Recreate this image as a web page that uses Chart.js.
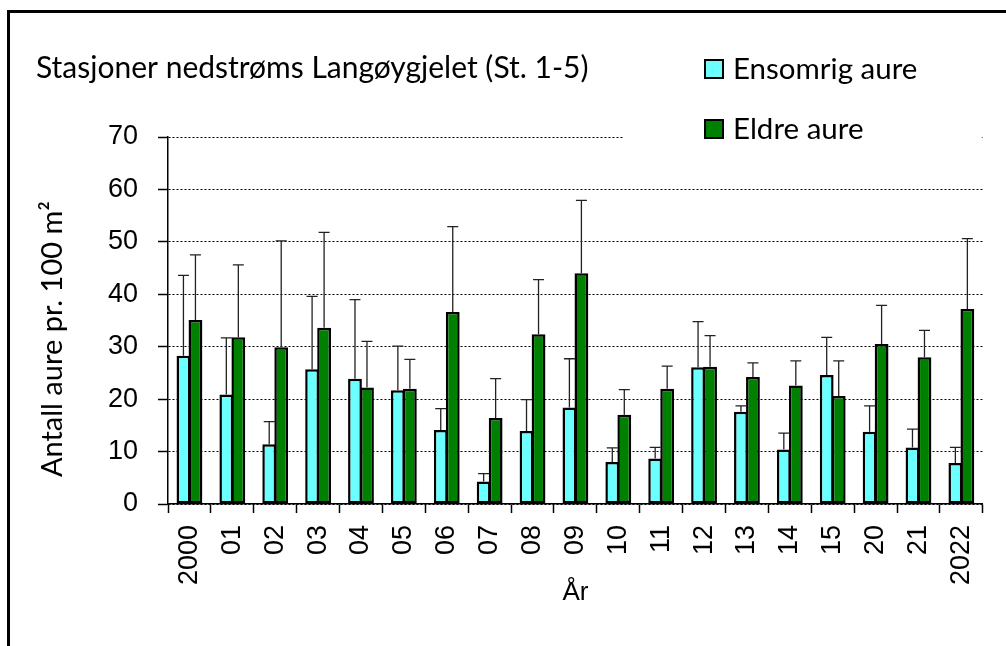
<!DOCTYPE html>
<html>
<head>
<meta charset="utf-8">
<script src="https://cdn.jsdelivr.net/npm/chart.js@4.4.0/dist/chart.umd.min.js"></script>
<style>
  html, body { margin: 0; padding: 0; background: #fff; }
  #wrap { position: relative; width: 1006px; height: 646px; }
  #frame {
    position: absolute; left: 7px; top: 10px; right: 0; bottom: 0;
    border-left: 3px solid #000; border-top: 3px solid #000;
    pointer-events: none;
  }
</style>
</head>
<body>
<div id="wrap">
  <canvas id="aureChart" width="1006" height="646"></canvas>
  <div id="frame"></div>
</div>
<script>
const chartTitle = "Stasjoner nedstrøms Langøygjelet (St. 1-5)";

const years = ["2000", "01", "02", "03", "04", "05", "06", "07", "08", "09",
  "10", "11", "12", "13", "14", "15", "20", "21", "2022"];

// mean density + upper standard deviation
const ensomrig = [28.3, 20.9, 11.4, 25.7, 23.9, 21.7, 14.1, 4.3, 13.9, 18.4,
  8.0, 8.7, 26.1, 17.6, 10.4, 24.6, 13.8, 10.8, 7.8];
const ensomrigSd = [15.3, 10.8, 4.3, 13.9, 15.1, 8.4, 4.1, 1.5, 6.0, 9.3,
  2.7, 2.1, 8.7, 1.1, 3.1, 7.2, 4.9, 3.5, 3.0];

const eldre = [35.1, 31.8, 29.9, 33.6, 22.2, 22.0, 36.6, 16.4, 32.4, 44.0,
  17.0, 22.0, 26.2, 24.2, 22.6, 20.6, 30.5, 28.0, 37.2];
const eldreSd = [12.4, 13.8, 20.3, 18.2, 8.8, 5.6, 16.3, 7.5, 10.4, 13.9,
  4.8, 4.3, 5.9, 2.7, 4.7, 6.7, 7.4, 5.1, 13.4];

const errors = [ensomrigSd, eldreSd];

const textFont = "Lato";
const tickFont = "'Liberation Sans', Arial, sans-serif";

const errorBarPlugin = {
  id: "errorBars",
  afterDatasetsDraw(chart) {
    const ctx = chart.ctx;
    const yScale = chart.scales.y;
    ctx.save();
    ctx.strokeStyle = "#222";
    ctx.lineWidth = 1.3;
    chart.data.datasets.forEach((ds, i) => {
      const meta = chart.getDatasetMeta(i);
      meta.data.forEach((bar, j) => {
        const top = yScale.getPixelForValue(ds.data[j] + errors[i][j]);
        ctx.beginPath();
        ctx.moveTo(bar.x, bar.y);
        ctx.lineTo(bar.x, top);
        ctx.moveTo(bar.x - 5.5, top);
        ctx.lineTo(bar.x + 5.5, top);
        ctx.stroke();
      });
    });
    ctx.restore();
  },
};

// title + stacked legend in the top right, on a white box over the top gridline
const headerPlugin = {
  id: "header",
  beforeDatasetsDraw(chart) {
    const ctx = chart.ctx;
    ctx.save();
    ctx.fillStyle = "#fff";
    ctx.fillRect(623, 40, chart.chartArea.right - 624, 105);
    ctx.restore();
  },
  afterDraw(chart) {
    const ctx = chart.ctx;
    ctx.save();
    ctx.fillStyle = "#000";
    ctx.font = "30px " + textFont;
    ctx.textBaseline = "middle";
    ctx.fillText(chartTitle, 36, 68);
    chart.data.datasets.forEach((ds, i) => {
      const y = 69 + i * 60;
      ctx.fillStyle = ds.backgroundColor;
      ctx.fillRect(705, y - 9, 18, 18);
      ctx.lineWidth = 2;
      ctx.strokeStyle = "#000";
      ctx.strokeRect(705, y - 9, 18, 18);
      ctx.fillStyle = "#000";
      ctx.font = "29.5px " + textFont;
      ctx.fillText(ds.label, 733, y);
    });
    ctx.restore();
  },
};

const ctx = document.getElementById("aureChart").getContext("2d");

const aureChart = new Chart(ctx, {
  type: "bar",
  data: {
    labels: years,
    datasets: [
      {
        label: "Ensomrig aure",
        data: ensomrig,
        backgroundColor: "#6bffff",
        borderColor: "#000",
        borderWidth: 2.5,
        borderSkipped: false,
      },
      {
        label: "Eldre aure",
        data: eldre,
        backgroundColor: "#008000",
        borderColor: "#000",
        borderWidth: 2.5,
        borderSkipped: false,
      },
    ],
  },
  plugins: [errorBarPlugin, headerPlugin],
  options: {
    responsive: false,
    animation: false,
    datasets: {
      bar: {
        categoryPercentage: 0.56,
        barPercentage: 1.15,
      },
    },
    layout: {
      padding: { top: 137, left: 10, right: 9, bottom: 0 },
    },
    plugins: {
      legend: { display: false },
      tooltip: { enabled: false },
      title: { display: false },
    },
    scales: {
      x: {
        offset: true,
        afterFit(scale) {
          scale.height = 142;
        },
        grid: {
          offset: true,
          drawOnChartArea: false,
          drawTicks: true,
          tickLength: 9,
          tickColor: "#000",
          tickWidth: 1.5,
        },
        border: { display: true, color: "#000", width: 1.5 },
        ticks: {
          autoSkip: false,
          maxRotation: 90,
          minRotation: 90,
          padding: 12,
          color: "#000",
          font: { family: tickFont, size: 27 },
        },
        title: {
          display: true,
          text: "År",
          color: "#000",
          font: { family: tickFont, size: 26 },
          padding: { top: 0, bottom: 38 },
        },
      },
      y: {
        min: 0,
        max: 70,
        afterFit(scale) {
          scale.width = 158;
        },
        grid: {
          color: "#000",
          lineWidth: 1,
          drawTicks: true,
          tickLength: 10,
          tickColor: "#000",
          tickWidth: 1.5,
          tickBorderDash: [],
        },
        border: { display: true, color: "#000", width: 1.5, dash: [2, 2] },
        ticks: {
          stepSize: 10,
          padding: 20,
          color: "#000",
          font: { family: tickFont, size: 27 },
        },
        title: {
          display: true,
          text: "Antall aure pr. 100 m²     ",
          color: "#000",
          font: { family: textFont, size: 29 },
          padding: { top: 25, bottom: 0 },
        },
      },
    },
  },
});
</script>
</body>
</html>
